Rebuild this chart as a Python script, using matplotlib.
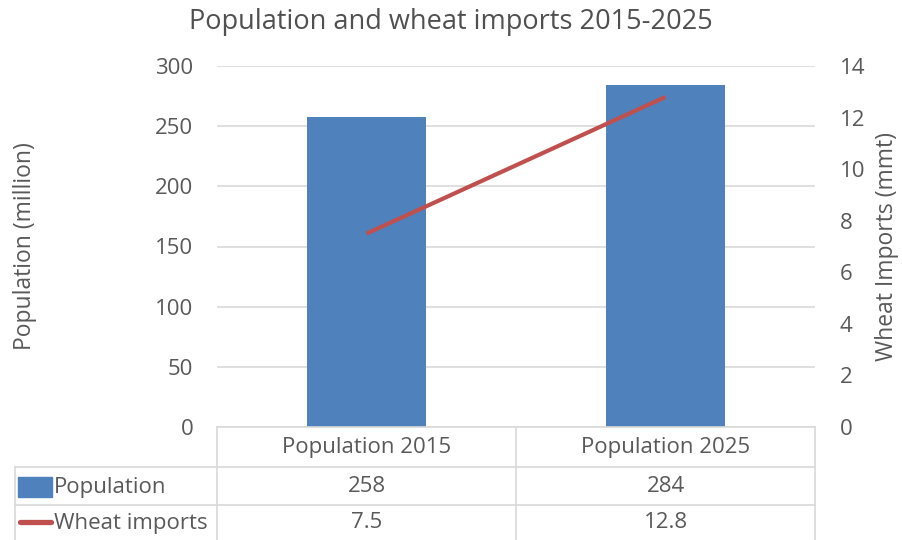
import matplotlib
matplotlib.use("Agg")
import matplotlib.pyplot as plt
from matplotlib.lines import Line2D
from matplotlib.patches import Rectangle

categories = ["Population 2015", "Population 2025"]
population = [258, 284]
wheat_imports = [7.5, 12.8]
series_names = ["Population", "Wheat imports"]
pop_ticks = [0, 50, 100, 150, 200, 250, 300]
wheat_ticks = [0, 2, 4, 6, 8, 10, 12, 14]

BLUE = "#4F81BD"
RED = "#C0504D"
TXT = "#595959"
GRID = "#D9D9D9"
FS = 16

plt.rcParams["font.family"] = ["Open Sans", "DejaVu Sans"]

W, H = 902, 540
fig = plt.figure(figsize=(W / 100, H / 100), dpi=100)

# plot area in pixel coordinates
x0, x1, ytop, ybot = 217, 815, 66, 427
ax = fig.add_axes([x0 / W, 1 - ybot / H, (x1 - x0) / W, (ybot - ytop) / H])

xs = list(range(len(categories)))
ax.bar(xs, population, width=0.4, color=BLUE, zorder=3)
ax.set_xlim(-0.5, len(categories) - 0.5)
ax.set_ylim(pop_ticks[0], pop_ticks[-1])
ax.set_yticks(pop_ticks)
ax.set_yticklabels([str(t) for t in pop_ticks], fontsize=FS, color=TXT)
ax.tick_params(axis="y", length=0, pad=17)
ax.set_xticks([])
ax.yaxis.grid(True, color=GRID, linewidth=1.2, zorder=0)
for s in ax.spines.values():
    s.set_visible(False)
ax.set_ylabel("Population (million)", fontsize=16.5, color=TXT, va="center")
ax.yaxis.set_label_coords((25 - x0) / (x1 - x0), 0.5)

ax2 = ax.twinx()
ax2.plot(xs, wheat_imports, color=RED, linewidth=3, solid_capstyle="butt", zorder=4)
ax2.set_ylim(wheat_ticks[0], wheat_ticks[-1])
ax2.set_yticks(wheat_ticks)
ax2.set_yticklabels([str(t) for t in wheat_ticks], fontsize=FS, color=TXT)
ax2.tick_params(axis="y", length=0, pad=18)
for s in ax2.spines.values():
    s.set_visible(False)
ax2.set_ylabel("Wheat Imports (mmt)", fontsize=16.5, color=TXT, va="center")
ax2.yaxis.set_label_coords((887 - x0) / (x1 - x0), 0.5)

fig.text(0.5, 1 - 22 / H, "Population and wheat imports 2015-2025",
         ha="center", va="center", fontsize=19.5, color="#505050")

# data table below the plot area
def px(x, y):
    return x / W, 1 - y / H

def hline(xa, xb, y):
    (a, yy), (b, _) = px(xa, y), px(xb, y)
    fig.add_artist(Line2D([a, b], [yy, yy], color=GRID, linewidth=1.2))

def vline(x, ya, yb):
    (xx, a), (_, b) = px(x, ya), px(x, yb)
    fig.add_artist(Line2D([xx, xx], [a, b], color=GRID, linewidth=1.2))

tbl_left = 15
row_edges = [427, 467, 505, 540]
col_edges = [x0] + [x0 + (x1 - x0) * (i + 1) / len(categories) for i in range(len(categories))]

hline(x0, x1, row_edges[0])
for y in row_edges[1:3]:
    hline(tbl_left, x1, y)
for cx in col_edges:
    vline(cx, row_edges[0], row_edges[-1])
vline(tbl_left, row_edges[1], row_edges[-1])

for i, cat in enumerate(categories):
    cx = (col_edges[i] + col_edges[i + 1]) / 2
    fig.text(*px(cx, 447), cat, ha="center", va="center", fontsize=FS, color=TXT)
    fig.text(*px(cx, 487), f"{population[i]:g}", ha="center", va="center", fontsize=FS, color=TXT)
    fig.text(*px(cx, 523), f"{wheat_imports[i]:g}", ha="center", va="center", fontsize=FS, color=TXT)

# legend keys inside the table
kx, ky = px(18, 497)
fig.add_artist(Rectangle((kx, ky), 34 / W, 20 / H, color=BLUE, transform=fig.transFigure))
a, yy = px(20, 522)
b, _ = px(51, 522)
fig.add_artist(Line2D([a, b], [yy, yy], color=RED, linewidth=3.8, solid_capstyle="round"))
fig.text(*px(54, 487), series_names[0], ha="left", va="center", fontsize=FS, color=TXT)
fig.text(*px(54, 523), series_names[1], ha="left", va="center", fontsize=FS, color=TXT)

fig.savefig("out.png", dpi=100, facecolor="white")
